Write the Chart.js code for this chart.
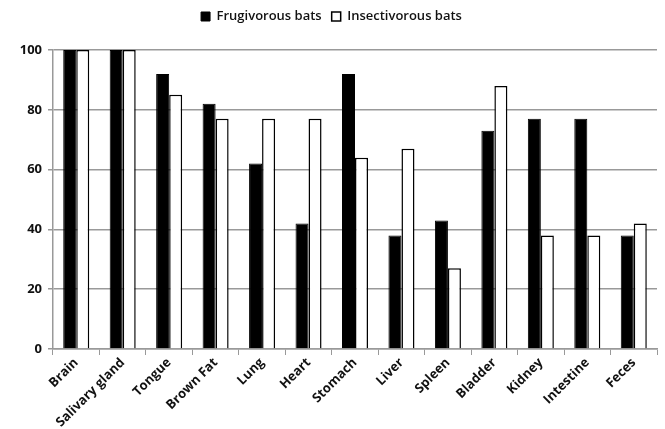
<!DOCTYPE html>
<html lang="en">
<head>
  <meta charset="UTF-8" />
  <title>Frugivorous vs insectivorous bats</title>
  <script src="https://cdn.jsdelivr.net/npm/chart.js"></script>
  <style>
    * { margin: 0; padding: 0; box-sizing: border-box; }
    body { background: #ffffff; }
    .wrap { width: 665px; height: 429px; }
  </style>
</head>
<body>
  <div class="wrap"><canvas id="chart"></canvas></div>
  <script>
    const tissues = ['Brain', 'Salivary gland', 'Tongue', 'Brown Fat', 'Lung', 'Heart', 'Stomach',
      'Liver', 'Spleen', 'Bladder', 'Kidney', 'Intestine', 'Feces'];
    const frugivorous = [100, 100, 92, 82, 62, 42, 92, 38, 43, 73, 77, 77, 38];
    const insectivorous = [100, 100, 85, 77, 77, 77, 64, 67, 27, 88, 38, 38, 42];
    const yTicks = [0, 20, 40, 60, 80, 100];

    const font = { family: "'Open Sans', sans-serif", size: 13, weight: 'bold' };

    // push the plot down below the legend, as in the original figure
    const legendGap = {
      id: 'legendGap',
      beforeInit(chart) {
        const fit = chart.legend.fit;
        chart.legend.fit = function () {
          fit.call(this);
          this.height += 17;
        };
      }
    };

    new Chart(document.getElementById('chart'), {
      type: 'bar',
      data: {
        labels: tissues,
        datasets: [
          {
            label: 'Frugivorous bats',
            data: frugivorous,
            backgroundColor: '#000000',
            borderColor: '#000000',
            borderWidth: 1
          },
          {
            label: 'Insectivorous bats',
            data: insectivorous,
            backgroundColor: '#ffffff',
            borderColor: '#000000',
            borderWidth: 1.5
          }
        ]
      },
      options: {
        responsive: true,
        maintainAspectRatio: false,
        animation: false,
        layout: { padding: { left: 6, right: 8, top: 0, bottom: 0 } },
        datasets: { bar: { categoryPercentage: 0.56, barPercentage: 1 } },
        plugins: {
          legend: {
            position: 'top',
            labels: {
              color: '#111',
              font: { family: "'Open Sans', sans-serif", size: 13, weight: '600' },
              boxWidth: 9,
              boxHeight: 9,
              padding: 10
            }
          },
          tooltip: { enabled: false }
        },
        scales: {
          x: {
            grid: {
              drawOnChartArea: false,
              color: '#999',
              tickLength: 6,
              offset: true
            },
            border: { color: '#999', width: 1.5 },
            ticks: {
              color: '#111',
              font: font,
              maxRotation: 45,
              minRotation: 45,
              padding: 0
            },
            afterFit: (axis) => { axis.height = 80; }
          },
          y: {
            min: 0,
            max: 100,
            afterBuildTicks: (axis) => { axis.ticks = yTicks.map(v => ({ value: v })); },
            grid: { color: '#999', lineWidth: 1.5, tickLength: 5 },
            border: { color: '#999', width: 1.5 },
            ticks: { color: '#111', font: font, padding: 6 },
            afterFit: (axis) => { axis.width = 47; }
          }
        }
      },
      plugins: [legendGap]
    });
  </script>
</body>
</html>
